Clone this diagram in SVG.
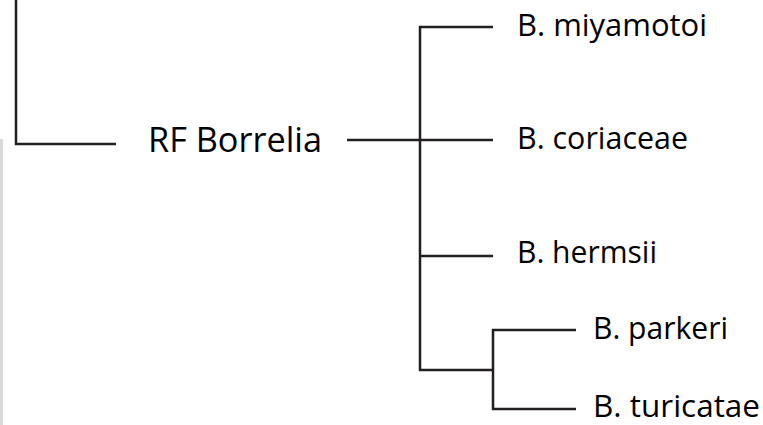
<svg xmlns="http://www.w3.org/2000/svg" width="763" height="425" viewBox="0 0 763 425">
<style>
.ln{stroke:#231f20;stroke-width:2.5;fill:none;stroke-linecap:butt;stroke-linejoin:miter}
.lb{font-family:"Open Sans","Liberation Sans",sans-serif;fill:#000;}
.sp{font-size:31px}
.rf{font-size:34px}
</style>
<rect width="763" height="425" fill="#fff"/>
<rect x="0" y="139" width="3" height="286" fill="#dadada"/>
<g id="connectors">
<path class="ln" d="M16,0 V144 H116"/>
<path class="ln" d="M347,140 H493"/>
<path class="ln" d="M493,27 H420 V370 H493"/>
<path class="ln" d="M420,256 H493"/>
<path class="ln" d="M576,330 H493 V409 H576"/>
</g>
<g id="node-rf"><text class="lb rf" x="148" y="152" textLength="174" lengthAdjust="spacingAndGlyphs">RF Borrelia</text></g>
<g id="node-miyamotoi"><text class="lb sp" x="517" y="36" textLength="190" lengthAdjust="spacingAndGlyphs">B. miyamotoi</text></g>
<g id="node-coriaceae"><text class="lb sp" x="517" y="149" textLength="171" lengthAdjust="spacingAndGlyphs">B. coriaceae</text></g>
<g id="node-hermsii"><text class="lb sp" x="517" y="263" textLength="140" lengthAdjust="spacingAndGlyphs">B. hermsii</text></g>
<g id="node-parkeri"><text class="lb sp" x="593" y="339" textLength="135" lengthAdjust="spacingAndGlyphs">B. parkeri</text></g>
<g id="node-turicatae"><text class="lb sp" x="593" y="417" textLength="167" lengthAdjust="spacingAndGlyphs">B. turicatae</text></g>
</svg>
